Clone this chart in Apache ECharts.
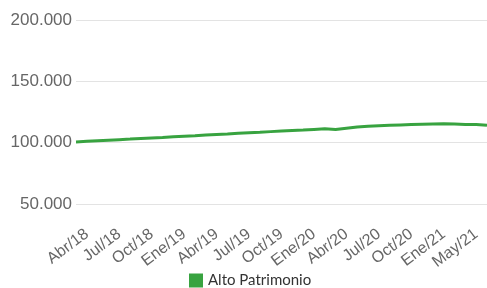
<!doctype html>
<html lang="es">
<head>
	<meta charset="UTF-8">
	<title>Alto Patrimonio</title>
	<script src="https://cdn.jsdelivr.net/npm/echarts@6/dist/echarts.min.js"></script>
	<style>
		html, body { margin: 0; padding: 0; background: #fff; }
		#main { width: 487px; height: 288px; }
	</style>
</head>
<body>
<div id="main"></div>
<script type="text/javascript">
	// meses (un punto por mes aprox.), etiquetas del eje cada 3 puntos
	var meses = ['Abr/18','May/18','Jun/18','Jul/18','Ago/18','Sep/18','Oct/18','Nov/18','Dic/18',
		'Ene/19','Feb/19','Mar/19','Abr/19','May/19','Jun/19','Jul/19','Ago/19','Sep/19',
		'Oct/19','Nov/19','Dic/19','Ene/20','Feb/20','Mar/20','Abr/20','May/20','Jun/20',
		'Jul/20','Ago/20','Sep/20','Oct/20','Nov/20','Dic/20','Ene/21','Feb/21','Mar/21',
		'May/21','Jun/21','Jul/21'];
	var etiquetasX = ['Abr/18','Jul/18','Oct/18','Ene/19','Abr/19','Jul/19','Oct/19',
		'Ene/20','Abr/20','Jul/20','Oct/20','Ene/21','May/21'];
	var altoPatrimonio = [100600, 101060, 101530, 102000, 102450, 102900, 103400, 103850, 104300,
		104800, 105250, 105700, 106200, 106650, 107100, 107600, 108050, 108500,
		109000, 109450, 109900, 110300, 110800, 111300, 110700, 111700, 112700,
		113300, 113800, 114200, 114500, 114800, 115000, 115200, 115400, 115200,
		114800, 114900, 114100];

	var myChart = echarts.init(document.getElementById('main'));

	function miles(v) {
		return String(v).replace(/\B(?=(\d{3})+(?!\d))/g, '.');
	}

	var option = {
		animation: false,
		grid: { left: 76, right: 0, top: 20, bottom: 84 },
		legend: {
			left: 184,
			top: 268,
			icon: 'rect',
			itemWidth: 14,
			itemHeight: 14,
			itemGap: 8,
			textStyle: { fontFamily: 'Lato', fontSize: 15, color: '#333' },
			data: ['Alto Patrimonio']
		},
		xAxis: {
			type: 'category',
			boundaryGap: false,
			data: meses,
			axisLine: { show: false },
			axisTick: { show: false },
			axisLabel: {
				interval: 2,
				rotate: 37,
				margin: 14,
				verticalAlign: 'top',
				padding: [10, 0, 0, 0],
				fontFamily: 'Liberation Sans',
				fontSize: 16,
				color: '#666',
				formatter: function (val, idx) {
					return etiquetasX[idx / 3] || '';
				}
			}
		},
		yAxis: {
			type: 'value',
			min: 50000,
			max: 200000,
			interval: 50000,
			axisLine: { show: false },
			axisTick: { show: false },
			splitLine: { lineStyle: { color: '#e3e3e3', width: 1 } },
			axisLabel: {
				margin: 4,
				fontFamily: 'Liberation Sans',
				fontSize: 17,
				color: '#666',
				formatter: miles
			}
		},
		series: [{
			name: 'Alto Patrimonio',
			type: 'line',
			data: altoPatrimonio,
			showSymbol: false,
			symbol: 'none',
			itemStyle: { color: '#38a340' },
			lineStyle: { color: '#38a340', width: 3 }
		}]
	};

	myChart.setOption(option);
</script>
</body>
</html>
